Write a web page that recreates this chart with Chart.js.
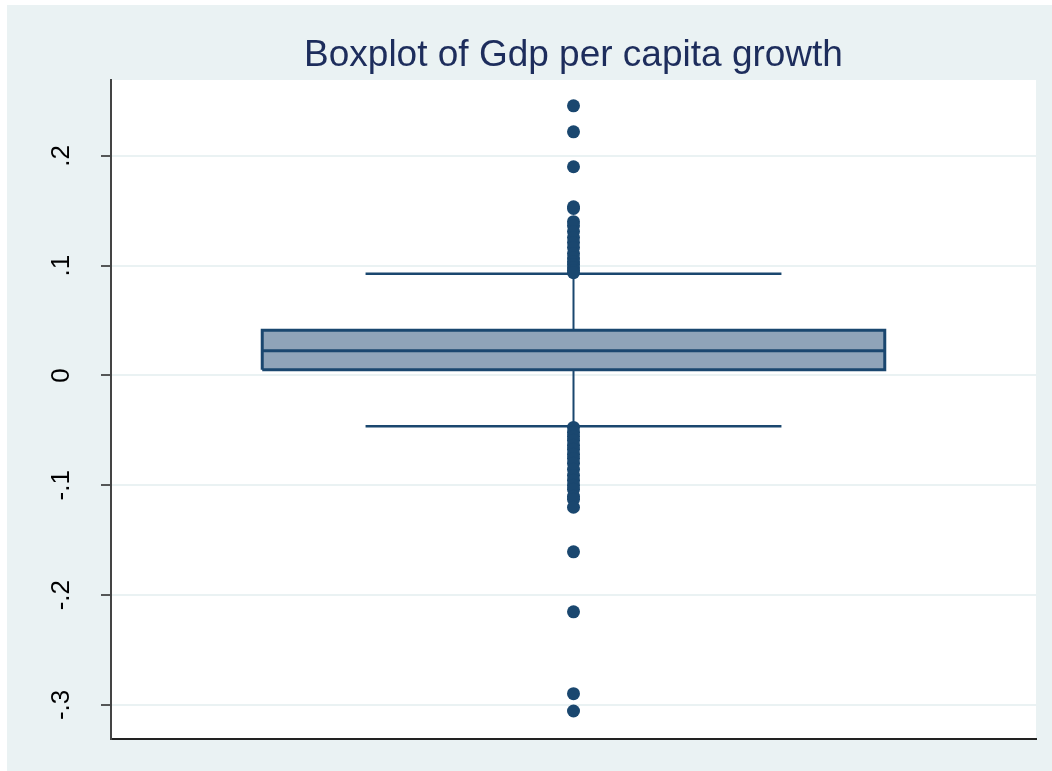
<!DOCTYPE html>
<html>
<head>
<meta charset="utf-8">
<title>Boxplot of Gdp per capita growth</title>
<script src="https://cdn.jsdelivr.net/npm/chart.js@4/dist/chart.umd.min.js"></script>
<style>
    html, body { margin: 0; padding: 0; background: #ffffff; overflow: hidden; }
    #myChart { display: block; }
</style>
</head>
<body>
<canvas id="myChart" width="1052" height="771"></canvas>
<script>
// box statistics for gdp per capita growth
var boxStats = ["lowerWhisker", "q1", "median", "q3", "upperWhisker"];
var boxValues = [-0.0462, 0.0052, 0.0225, 0.0412, 0.0925];

// outside values
var upperOutliers = [0.2455, 0.2218, 0.19, 0.1536, 0.152, 0.14, 0.1364, 0.131, 0.1255, 0.121, 0.1164,
    0.111, 0.107, 0.1036, 0.101, 0.098, 0.0955, 0.0935];
var lowerOutliers = [-0.0473, -0.0518, -0.0555, -0.059, -0.0636, -0.0673, -0.0718, -0.0755, -0.08,
    -0.0855, -0.091, -0.0955, -0.1, -0.1036, -0.11, -0.1127, -0.12, -0.1606, -0.2152, -0.2897, -0.3055];

var tickValues = [-0.3, -0.2, -0.1, 0, 0.1, 0.2];
var tickLabels = ["-.3", "-.2", "-.1", "0", ".1", ".2"];

var navy = "#1a476f";
var boxFill = "#8fa4b9";
var mid = 0.5, boxHalf = 0.3365, capHalf = 0.2248;

function stat(name) {
    return boxValues[boxStats.indexOf(name)];
}

function seg(x0, y0, x1, y1) {
    return [{ x: x0, y: y0 }, { x: x1, y: y1 }];
}

var q1 = stat("q1"), q3 = stat("q3"), med = stat("median");
var lo = stat("lowerWhisker"), hi = stat("upperWhisker");
var bl = mid - boxHalf, br = mid + boxHalf;

var outlierPoints = [];
for (var i = 0; i < upperOutliers.length; i++) {
    outlierPoints.push({ x: mid, y: upperOutliers[i] });
}
for (var i = 0; i < lowerOutliers.length; i++) {
    outlierPoints.push({ x: mid, y: lowerOutliers[i] });
}

function lineSet(data, width, order) {
    return {
        type: "line", data: data, borderColor: navy, borderWidth: width,
        pointRadius: 0, fill: false, order: order, tension: 0
    };
}

var bgPlugin = {
    id: "bg",
    beforeDraw: function (chart) {
        var ctx = chart.ctx, a = chart.chartArea;
        ctx.save();
        ctx.fillStyle = "#ffffff";
        ctx.fillRect(0, 0, chart.width, chart.height);
        ctx.fillStyle = "#eaf2f3";
        ctx.fillRect(7, 5, chart.width - 7, chart.height - 5);
        ctx.fillStyle = "#ffffff";
        ctx.fillRect(a.left, a.top, a.right - a.left, a.bottom - a.top);
        ctx.restore();
    }
};

var ctx = document.getElementById("myChart");
var myChart = new Chart(ctx, {
    type: "scatter",
    data: {
        datasets: [
            {
                type: "scatter", data: outlierPoints, backgroundColor: navy, borderWidth: 0,
                pointRadius: 6.5, order: 0
            },
            {
                type: "line", data: seg(bl, q3, br, q3), borderWidth: 0, pointRadius: 0,
                backgroundColor: boxFill, fill: { value: q1 }, order: 3
            },
            lineSet([{ x: bl, y: q1 }, { x: br, y: q1 }, { x: br, y: q3 }, { x: bl, y: q3 }, { x: bl, y: q1 }], 3, 1),
            lineSet(seg(bl, med, br, med), 3, 1),
            lineSet(seg(mid, q3, mid, hi), 2, 2),
            lineSet(seg(mid - capHalf, hi, mid + capHalf, hi), 2.5, 2),
            lineSet(seg(mid, q1, mid, lo), 2, 2),
            lineSet(seg(mid - capHalf, lo, mid + capHalf, lo), 2.5, 2)
        ]
    },
    options: {
        responsive: false,
        animation: false,
        layout: { padding: { left: 7, top: 5, right: 16, bottom: 32 } },
        plugins: {
            legend: { display: false },
            tooltip: { enabled: false },
            title: {
                display: true,
                fullSize: false,
                text: "Boxplot of Gdp per capita growth",
                color: "#1d2d5c",
                font: { family: "'Liberation Sans', Arial, sans-serif", size: 37, weight: "normal" },
                padding: { top: 29, bottom: 1.6 }
            }
        },
        scales: {
            x: {
                type: "linear", min: 0, max: 1,
                ticks: { display: false },
                grid: { display: false },
                border: { display: true, color: "#222222", width: 2 },
                afterFit: function (s) { s.height = 0; }
            },
            y: {
                type: "linear", position: "left", min: -0.331, max: 0.269,
                afterBuildTicks: function (s) {
                    s.ticks = tickValues.map(function (v) { return { value: v }; });
                },
                // fixed axis width, and no extra room for the rotated labels
                afterFit: function (s) {
                    s.width = 104;
                    s.paddingTop = 0;
                    s.paddingBottom = 0;
                },
                ticks: {
                    minRotation: 90, maxRotation: 90, crossAlign: "center", padding: 24,
                    color: "#000000",
                    font: { family: "'Liberation Sans', Arial, sans-serif", size: 26 },
                    callback: function (v) {
                        var k = tickValues.indexOf(Math.round(v * 10) / 10);
                        return k >= 0 ? tickLabels[k] : "";
                    }
                },
                grid: {
                    color: "#eaf2f3", lineWidth: 2, drawTicks: true,
                    tickLength: 10, tickColor: "#222222", tickWidth: 1.5
                },
                border: { display: true, color: "#444444", width: 2 }
            }
        }
    },
    plugins: [bgPlugin]
});
</script>
</body>
</html>
